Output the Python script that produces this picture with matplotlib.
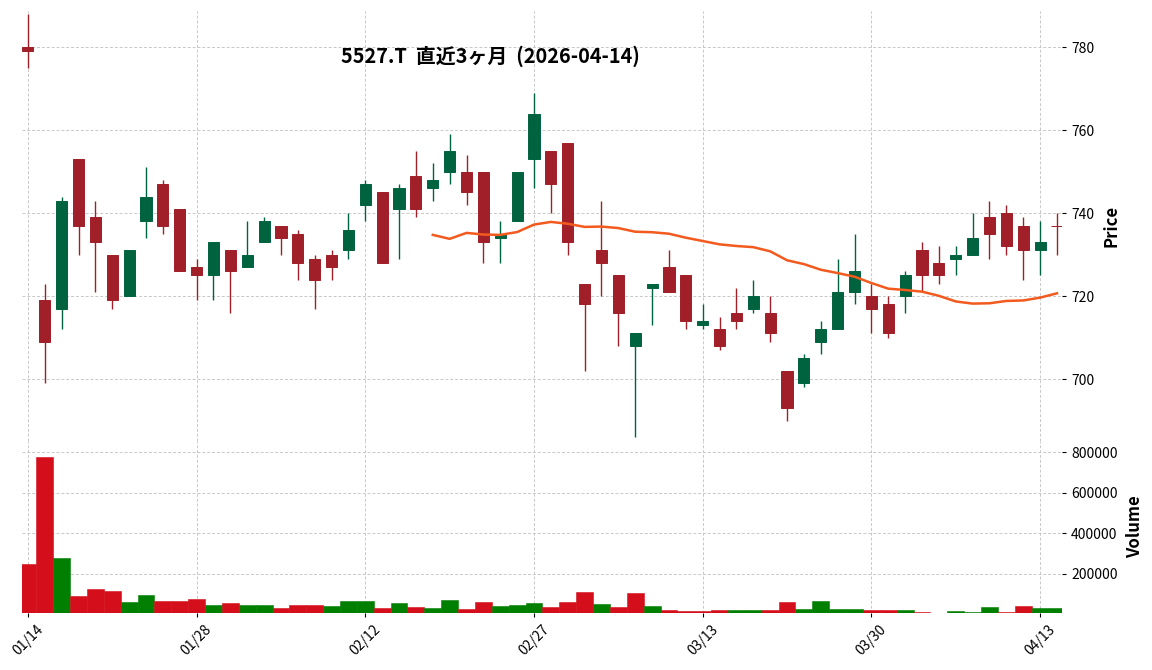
import matplotlib
matplotlib.use('Agg')
import matplotlib.pyplot as plt
import numpy as np
import pandas as pd

plt.rcParams['font.family'] = ['Noto Sans CJK JP', 'DejaVu Sans']

title_text = '5527.T  直近3ヶ月  (2026-04-14)'
holidays = ['2026-02-11', '2026-02-23', '2026-03-20']
dates = pd.bdate_range('2026-01-14', '2026-04-14', freq='C', holidays=holidays)

opens = [780, 719, 717, 753, 739, 730, 720, 738, 747, 741,
         727, 725, 731, 727, 733, 737, 735, 729, 730, 731,
         742, 745, 741, 749, 746, 750, 750, 750, 734, 738,
         753, 755, 757, 723, 731, 725, 708, 722, 727, 725,
         713, 712, 716, 717, 716, 702, 699, 709, 712, 721,
         720, 718, 720, 731, 728, 729, 730, 739, 740, 737,
         731, 737]
highs = [788, 723, 744, 753, 743, 730, 731, 751, 748, 741,
         729, 733, 731, 738, 739, 737, 736, 730, 731, 740,
         748, 745, 747, 755, 752, 759, 754, 750, 738, 750,
         769, 755, 757, 723, 743, 725, 711, 723, 731, 725,
         718, 715, 722, 724, 720, 702, 706, 714, 729, 735,
         723, 720, 726, 733, 732, 732, 740, 743, 742, 739,
         738, 740]
lows = [775, 699, 712, 730, 721, 717, 720, 734, 735, 726,
        719, 719, 716, 727, 733, 730, 724, 717, 724, 729,
        738, 728, 729, 739, 743, 747, 742, 728, 728, 738,
        746, 740, 730, 702, 720, 708, 686, 713, 721, 712,
        712, 707, 712, 716, 709, 690, 698, 706, 712, 718,
        711, 710, 716, 721, 723, 725, 730, 729, 730, 724,
        725, 730]
closes = [779, 709, 743, 737, 733, 719, 731, 744, 737, 726,
          725, 733, 726, 730, 738, 734, 728, 724, 727, 736,
          747, 728, 746, 741, 748, 755, 745, 733, 735, 750,
          764, 747, 733, 718, 728, 716, 711, 723, 721, 714,
          714, 708, 714, 720, 711, 693, 705, 712, 721, 726,
          717, 711, 725, 725, 725, 730, 734, 735, 732, 731,
          733, 737]
volumes = [249000, 776000, 279000, 91600, 126000, 115000, 62000, 96500, 67000, 67000,
           76800, 47300, 57100, 47300, 47300, 32500, 47300, 47300, 42400, 67000,
           67000, 32500, 57100, 37400, 32500, 71900, 27600, 62000, 42400, 47300,
           57100, 37400, 62000, 111300, 52200, 37400, 106400, 42400, 22700, 17700,
           17700, 22700, 22700, 22700, 22700, 62000, 27600, 67000, 27600, 27600,
           22700, 22700, 22700, 12800, 5000, 17700, 12800, 37400, 12800, 42400,
           32500, 32500]

df = pd.DataFrame({'Open': opens, 'High': highs, 'Low': lows,
                   'Close': closes, 'Volume': volumes}, index=dates)
df['MA25'] = df['Close'].rolling(25).mean()

up_c, down_c = '#006340', '#a01f28'
vup_c, vdown_c = '#007f00', '#d40f1b'
grid_kw = dict(color='#c8c8c8', linestyle=(0, (3, 2)), linewidth=0.7)

x = np.arange(len(df))
is_up = df['Close'].values > df['Open'].values
ccol = np.where(is_up, up_c, down_c)
prev = np.r_[df['Open'].values[0], df['Close'].values[:-1]]
vcol = np.where(df['Close'].values > prev, vup_c, vdown_c)

fig = plt.figure(figsize=(11.52, 6.70), dpi=100)
ax1 = fig.add_axes([0.0191, 0.3418, 0.9028, 0.6418])
ax2 = fig.add_axes([0.0191, 0.0851, 0.9028, 0.2567], sharex=ax1)

# candles
ax1.vlines(x, df['Low'], df['High'], colors=ccol, linewidth=1.0, zorder=2)
body_lo = np.minimum(df['Open'], df['Close'])
body_h = np.abs(df['Close'] - df['Open'])
ax1.bar(x, body_h, bottom=body_lo, width=0.66, color=ccol,
        edgecolor=ccol, linewidth=0.7, zorder=3)
ax1.plot(x, df['MA25'], color='#f25a1e', linewidth=1.8, zorder=4)

# volume
ax2.bar(x, df['Volume'], width=1.0, color=vcol, edgecolor=vcol,
        linewidth=0.4, zorder=2)

ax1.set_xlim(-0.35, len(df) - 0.7)
ax1.set_ylim(685.1, 788.7)
ax2.set_ylim(8000, 855000)

for ax in (ax1, ax2):
    for s in ax.spines.values():
        s.set_visible(False)
    ax.grid(True, **grid_kw)
    ax.set_axisbelow(True)
    ax.yaxis.tick_right()
    ax.yaxis.set_label_position('right')
    ax.tick_params(axis='both', labelsize=10, length=3, width=0.8, pad=3.5)

ax1.set_yticks([700, 720, 740, 760, 780])
ax2.set_yticks([200000, 400000, 600000, 800000])
ax2.set_yticklabels(['200000', '400000', '600000', '800000'])

tick_idx = list(range(0, len(df), 10))
ax2.set_xticks(tick_idx)
ax2.set_xticklabels([dates[i].strftime('%m/%d') for i in tick_idx],
                    rotation=45, ha='center')
ax1.tick_params(axis='x', length=0, labelbottom=False)

ax1.set_ylabel('Price', fontsize=12, fontweight='bold', labelpad=6)
ax2.set_ylabel('Volume', fontsize=12, fontweight='bold', labelpad=6)

fig.text(0.4255, 0.916, title_text, ha='center', va='center',
         fontsize=14.3, fontweight='bold')

fig.savefig('out.png', dpi=100)
